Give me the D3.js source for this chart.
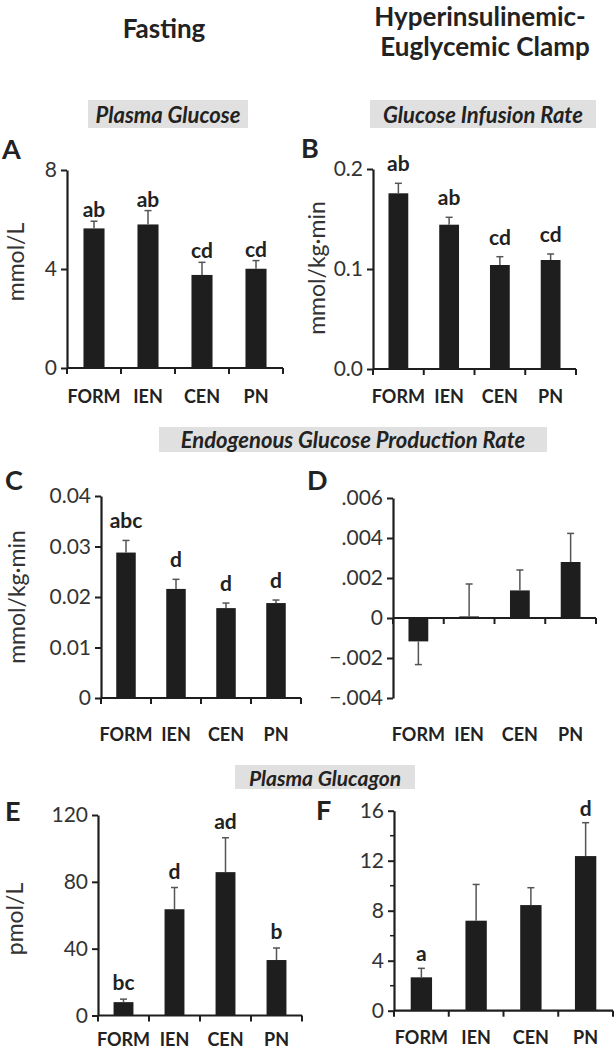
<!DOCTYPE html>
<html><head><meta charset="utf-8">
<script src="https://cdn.jsdelivr.net/npm/d3@7"></script>
<style>
html,body{margin:0;padding:0;background:#fff;}
svg{display:block;font-family:Lato,"Open Sans",sans-serif;}
</style></head>
<body>
<svg id="chart" width="616" height="1050"></svg>
<script>
// ---------- DATA ----------
const categories = ["FORM", "IEN", "CEN", "PN"];

// A: fasting plasma glucose (mmol/L)
const glucoseMean = [5.64, 5.80, 3.76, 4.01];
const glucoseSE = [0.29, 0.56, 0.51, 0.33];
const glucoseLetters = ["ab", "ab", "cd", "cd"];
const glucoseTicks = [0, 4, 8];

// B: glucose infusion rate (mmol/kg·min)
const girMean = [0.1757, 0.1443, 0.1040, 0.1090];
const girSE = [0.0100, 0.0074, 0.0083, 0.0060];
const girLetters = ["ab", "ab", "cd", "cd"];
const girTicks = [0, 0.1, 0.2];

// C: endogenous glucose production, fasting (mmol/kg·min)
const egpFastMean = [0.0288, 0.0216, 0.0178, 0.0188];
const egpFastSE = [0.0024, 0.0019, 0.0010, 0.0006];
const egpFastLetters = ["abc", "d", "d", "d"];
const egpFastTicks = [0, 0.01, 0.02, 0.03, 0.04];

// D: endogenous glucose production, clamp
const egpClampMean = [-0.00117, 0.00008, 0.00138, 0.00280];
const egpClampSE = [0.00116, 0.00162, 0.00102, 0.00143];
const egpClampLetters = ["", "", "", ""];
const egpClampTicks = [-0.004, -0.002, 0, 0.002, 0.004, 0.006];

// E: plasma glucagon, fasting (pmol/L)
const glucagonFastMean = [8.0, 63.6, 85.8, 33.2];
const glucagonFastSE = [1.8, 13.0, 20.6, 7.2];
const glucagonFastLetters = ["bc", "d", "ad", "b"];
const glucagonFastTicks = [0, 40, 80, 120];

// F: plasma glucagon, clamp
const glucagonClampMean = [2.67, 7.20, 8.45, 12.37];
const glucagonClampSE = [0.72, 2.90, 1.39, 2.67];
const glucagonClampLetters = ["a", "", "", "d"];
const glucagonClampTicks = [0, 4, 8, 12, 16];
const glucagonClampMinor = [2, 6, 10, 14];

// ---------- DRAW ----------
const svg = d3.select("#chart");
const INK = "#1e1e1e";

function panel(cfg) {
  const g = svg.append("g");
  const x = d3.scaleBand().domain(categories).range([cfg.x0, cfg.x1]).padding(0);
  const y = d3.scaleLinear().domain(cfg.domain).range([cfg.yBottom, cfg.yTop]);
  const bw = x.bandwidth() * 0.39;
  const rows = categories.map((c, i) => ({c, v: cfg.mean[i], e: cfg.se[i], l: cfg.letters[i]}));

  // bars
  g.selectAll("rect.bar").data(rows).enter().append("rect")
    .attr("x", d => x(d.c) + (x.bandwidth() - bw) / 2)
    .attr("width", bw)
    .attr("y", d => Math.min(y(0), y(d.v)))
    .attr("height", d => Math.abs(y(0) - y(d.v)))
    .attr("fill", INK);

  // error bars
  const tip = d => y(d.v + (d.v < 0 ? -d.e : d.e));
  const eb = g.selectAll("g.err").data(rows).enter().append("g");
  eb.append("line")
    .attr("x1", d => x(d.c) + x.bandwidth() / 2)
    .attr("x2", d => x(d.c) + x.bandwidth() / 2)
    .attr("y1", d => y(d.v)).attr("y2", tip)
    .attr("stroke", "#555").attr("stroke-width", 1.5);
  eb.append("line")
    .attr("x1", d => x(d.c) + x.bandwidth() / 2 - 3.5)
    .attr("x2", d => x(d.c) + x.bandwidth() / 2 + 3.5)
    .attr("y1", tip).attr("y2", tip)
    .attr("stroke", "#555").attr("stroke-width", 1.5);

  // significance letters
  g.selectAll("text.sig").data(rows.filter(d => d.l)).enter().append("text")
    .attr("x", d => x(d.c) + x.bandwidth() / 2)
    .attr("y", d => y(d.v + d.e) - cfg.letterGap)
    .attr("text-anchor", "middle")
    .attr("font-weight", 700).attr("font-size", 21).attr("fill", "#222")
    .text(d => d.l);

  // y axis
  const ya = g.append("g").attr("transform", `translate(${cfg.x0},0)`)
    .call(d3.axisLeft(y).tickValues(cfg.ticks).tickFormat(cfg.fmt).tickSize(6).tickSizeOuter(0).tickPadding(4));
  ya.select(".domain").attr("stroke", INK).attr("stroke-width", 2.2);
  ya.selectAll(".tick line").attr("stroke", INK).attr("stroke-width", 2);
  ya.selectAll(".tick text").attr("font-size", 21).attr("fill", "#333")
    .attr("font-family", "Lato, 'Open Sans', sans-serif");
  if (cfg.minor) {
    g.selectAll("line.minor").data(cfg.minor).enter().append("line")
      .attr("x1", cfg.x0 - 4).attr("x2", cfg.x0)
      .attr("y1", d => y(d)).attr("y2", d => y(d))
      .attr("stroke", INK).attr("stroke-width", 1.5);
  }

  // x axis at zero with ticks at band edges
  const y0 = y(0);
  g.append("line").attr("x1", cfg.x0).attr("x2", cfg.x1).attr("y1", y0).attr("y2", y0)
    .attr("stroke", INK).attr("stroke-width", 2.2);
  const edges = categories.map(c => x(c) + x.bandwidth());
  edges.push(x(categories[0]));
  g.selectAll("line.xt").data(edges).enter().append("line")
    .attr("x1", d => d).attr("x2", d => d)
    .attr("y1", y0).attr("y2", y0 + 6)
    .attr("stroke", INK).attr("stroke-width", 2);

  // category labels
  if (cfg.catY) {
    g.selectAll("text.cat").data(categories).enter().append("text")
      .attr("x", c => x(c) + x.bandwidth() / 2)
      .attr("y", cfg.catY)
      .attr("text-anchor", "middle")
      .attr("font-weight", 700).attr("font-size", 18).attr("fill", "#222")
      .text(c => c);
  }

  // y label
  if (cfg.ylabel) {
    g.append("text")
      .attr("transform", `translate(${cfg.ylabelX},${cfg.ylabelY}) rotate(-90)`)
      .attr("text-anchor", "middle").attr("dominant-baseline", "central")
      .attr("font-size", 23).attr("fill", "#333")
      .text(cfg.ylabel);
  }

  // panel letter
  g.append("text").attr("x", cfg.letterX).attr("y", cfg.letterY)
    .attr("font-weight", 700).attr("font-size", 27).attr("fill", "#222")
    .text(cfg.panel);
}

// headings
svg.append("text").attr("x", 164).attr("y", 38).attr("text-anchor", "middle")
  .attr("font-weight", 700).attr("font-size", 26).attr("fill", "#222").text("Fasting");
svg.append("text").attr("x", 480).attr("y", 26).attr("text-anchor", "middle")
  .attr("font-weight", 700).attr("font-size", 26).attr("fill", "#222").text("Hyperinsulinemic-");
svg.append("text").attr("x", 485).attr("y", 56).attr("text-anchor", "middle")
  .attr("font-weight", 700).attr("font-size", 26).attr("fill", "#222").text("Euglycemic Clamp");

function section(label, x0, x1, y0, y1, size) {
  svg.append("rect").attr("x", x0).attr("y", y0).attr("width", x1 - x0).attr("height", y1 - y0)
    .attr("fill", "#e0e0e0");
  svg.append("text").attr("x", (x0 + x1) / 2).attr("y", (y0 + y1) / 2)
    .attr("text-anchor", "middle").attr("dominant-baseline", "central")
    .attr("font-weight", 700).attr("font-style", "italic").attr("font-size", size).attr("fill", "#222")
    .text(label);
}
section("Plasma Glucose", 88, 248, 100, 128, 22);
section("Glucose Infusion Rate", 370, 596, 100, 128, 22);
section("Endogenous Glucose Production Rate", 159, 547, 427, 452, 22);
section("Plasma Glucagon", 235, 415, 765, 789, 21);

const fmtInt = d3.format("d");
panel({panel: "A", mean: glucoseMean, se: glucoseSE, letters: glucoseLetters, ticks: glucoseTicks,
  domain: [0, 8], x0: 67, x1: 283, yBottom: 368, yTop: 170, fmt: fmtInt, letterGap: 4,
  catY: 403, ylabel: "mmol/L", ylabelX: 15, ylabelY: 262, letterX: 2, letterY: 159});
panel({panel: "B", mean: girMean, se: girSE, letters: girLetters, ticks: girTicks,
  domain: [0, 0.2], x0: 373, x1: 576, yBottom: 369, yTop: 169, fmt: d3.format(".1f"), letterGap: 12,
  catY: 403, ylabel: "mmol/kg·min", ylabelX: 316, ylabelY: 268, letterX: 301, letterY: 158});
panel({panel: "C", mean: egpFastMean, se: egpFastSE, letters: egpFastLetters, ticks: egpFastTicks,
  domain: [0, 0.04], x0: 101, x1: 301, yBottom: 698, yTop: 496,
  fmt: d => d === 0 ? "0" : d3.format(".2f")(d), letterGap: 12,
  catY: 741, ylabel: "mmol/kg·min", ylabelX: 16, ylabelY: 597, letterX: 5, letterY: 490});
panel({panel: "D", mean: egpClampMean, se: egpClampSE, letters: egpClampLetters, ticks: egpClampTicks,
  domain: [-0.004, 0.006], x0: 393, x1: 596, yBottom: 698, yTop: 498,
  fmt: d => d === 0 ? "0" : d3.format(".3f")(d).replace("0.", "."), letterGap: 8,
  catY: 741, letterX: 307, letterY: 490});
panel({panel: "E", mean: glucagonFastMean, se: glucagonFastSE, letters: glucagonFastLetters, ticks: glucagonFastTicks,
  domain: [0, 120], x0: 98, x1: 302, yBottom: 1015.5, yTop: 815, fmt: fmtInt, letterGap: 9,
  catY: 1046, ylabel: "pmol/L", ylabelX: 14, ylabelY: 919, letterX: 5, letterY: 821});
panel({panel: "F", mean: glucagonClampMean, se: glucagonClampSE, letters: glucagonClampLetters, ticks: glucagonClampTicks,
  minor: glucagonClampMinor,
  domain: [0, 16], x0: 394, x1: 613, yBottom: 1010.7, yTop: 810.7, fmt: fmtInt, letterGap: 7,
  catY: 1044, letterX: 316, letterY: 820});
</script>
</body></html>
